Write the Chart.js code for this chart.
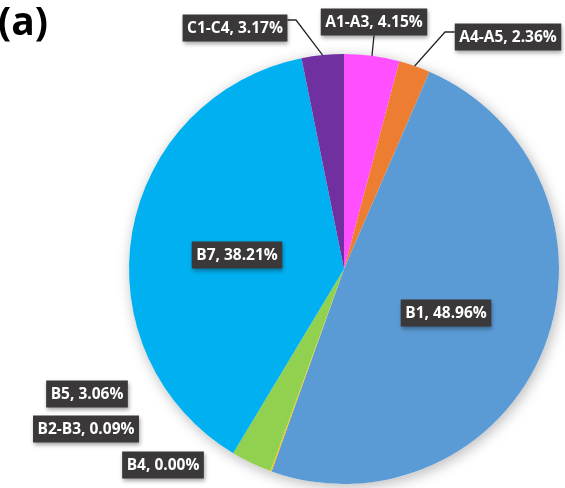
<!DOCTYPE html>
<html>
<head>
<meta charset="utf-8">
<script src="https://cdn.jsdelivr.net/npm/chart.js@4.4.1/dist/chart.umd.min.js"></script>
<style>
  html, body { margin: 0; padding: 0; background: #fff; }
  #wrap { width: 565px; height: 488px; position: relative; }
</style>
</head>
<body>
<div id="wrap"><canvas id="pieChart"></canvas></div>
<script>
const categories = ['A1-A3', 'A4-A5', 'B1', 'B2-B3', 'B4', 'B5', 'B7', 'C1-C4'];
const shares = [4.15, 2.36, 48.96, 0.09, 0.00, 3.06, 38.21, 3.17];
const sliceColors = ['#FF4FFF', '#ED7D31', '#5B9BD5', '#FFC000', '#A5A5A5', '#92D050', '#00B0F0', '#7030A0'];

// where each label box sits (center), and an optional elbow for the leader line
const labelBoxes = [
    { x: 374, y: 22, leader: true },
    { x: 508, y: 37, leader: true, elbow: { x: 445, y: 32 } },
    { x: 446, y: 313 },
    { x: 86, y: 429 },
    { x: 163, y: 465 },
    { x: 87, y: 394 },
    { x: 237, y: 255 },
    { x: 235, y: 28, leader: true, elbow: { x: 296, y: 20 } }
];

const labelPlugin = {
    id: 'boxLabels',
    beforeDatasetsDraw(chart) {
        // soft shadow under the whole pie
        const arc = chart.getDatasetMeta(0).data[0];
        const ctx = chart.ctx;
        ctx.save();
        ctx.shadowColor = 'rgba(0,0,0,0.28)';
        ctx.shadowBlur = 14;
        ctx.shadowOffsetX = 2;
        ctx.shadowOffsetY = 3;
        ctx.fillStyle = '#ffffff';
        ctx.beginPath();
        ctx.arc(arc.x, arc.y, arc.outerRadius, 0, Math.PI * 2);
        ctx.fill();
        ctx.restore();
    },
    afterDatasetsDraw(chart) {
        const ctx = chart.ctx;
        const meta = chart.getDatasetMeta(0);
        ctx.save();

        // title
        ctx.fillStyle = '#000';
        ctx.font = 'bold 39px "Open Sans"';
        ctx.textBaseline = 'middle';
        ctx.textAlign = 'left';
        ctx.fillText('(a)', -2, 24);

        ctx.font = 'bold 15.5px "Open Sans"';
        meta.data.forEach((arc, i) => {
            const box = labelBoxes[i];
            const text = categories[i] + ', ' + shares[i].toFixed(2) + '%';
            const w = ctx.measureText(text).width + 9;
            const h = 27;

            if (box.leader) {
                const mid = (arc.startAngle + arc.endAngle) / 2;
                const px = arc.x + Math.cos(mid) * arc.outerRadius;
                const py = arc.y + Math.sin(mid) * arc.outerRadius;
                ctx.strokeStyle = '#262626';
                ctx.lineWidth = 1.3;
                ctx.beginPath();
                if (box.elbow) {
                    const ex = box.x < box.elbow.x ? box.x + w / 2 : box.x - w / 2;
                    ctx.moveTo(ex, box.elbow.y);
                    ctx.lineTo(box.elbow.x, box.elbow.y);
                } else {
                    ctx.moveTo(box.x, box.y + h / 2);
                }
                ctx.lineTo(px, py);
                ctx.stroke();
            }

            ctx.shadowColor = 'rgba(0,0,0,0.35)';
            ctx.shadowBlur = 4;
            ctx.shadowOffsetX = 1;
            ctx.shadowOffsetY = 2;
            ctx.fillStyle = '#3A3838';
            ctx.fillRect(box.x - w / 2, box.y - h / 2, w, h);
            ctx.shadowColor = 'transparent';

            ctx.fillStyle = '#ffffff';
            ctx.textAlign = 'center';
            ctx.fillText(text, box.x, box.y + 1);
        });
        ctx.restore();
    }
};

const ctxPie = document.getElementById('pieChart').getContext('2d');
const pieChart = new Chart(ctxPie, {
    type: 'pie',
    data: {
        labels: categories,
        datasets: [{
            data: shares,
            backgroundColor: sliceColors,
            borderWidth: 0
        }]
    },
    options: {
        responsive: true,
        maintainAspectRatio: false,
        animation: false,
        layout: {
            padding: { left: 129, right: 6, top: 54, bottom: 4 }
        },
        plugins: {
            legend: { display: false },
            tooltip: { enabled: false }
        }
    },
    plugins: [labelPlugin]
});
</script>
</body>
</html>
